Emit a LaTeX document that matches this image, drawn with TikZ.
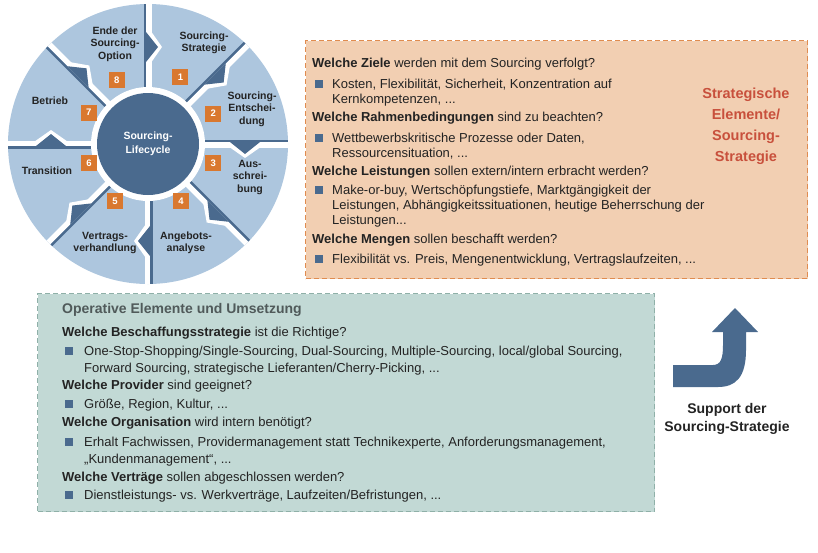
\documentclass[tikz,border=0pt]{standalone}
\usepackage{fontspec}
\setmainfont{Liberation Sans}
\begin{document}
\definecolor{lb}{RGB}{173,198,222}
\definecolor{db}{RGB}{74,106,142}
\definecolor{org}{RGB}{217,120,47}
\definecolor{obox}{RGB}{242,207,178}
\definecolor{oedge}{RGB}{224,140,80}
\definecolor{gbox}{RGB}{194,217,213}
\definecolor{gedge}{RGB}{143,176,168}
\definecolor{redt}{RGB}{200,80,60}
\definecolor{txt}{RGB}{35,35,35}
\begin{tikzpicture}[x=1pt,y=-1pt,
  num/.style={fill=org,text=white,font=\bfseries\fontsize{9.5}{10}\selectfont,minimum size=16pt,inner sep=0pt},
  seg/.style={font=\bfseries\fontsize{10.5}{12.5}\selectfont,text=txt,align=center,inner sep=0pt},
  q/.style={anchor=base west,inner sep=0pt,font=\fontsize{13}{15}\selectfont,text=txt},
  bl/.style={anchor=north west,inner sep=0pt,font=\fontsize{13}{15}\selectfont,text=txt,align=left},
  gl/.style={bl,font=\fontsize{13}{17}\selectfont},
  bx/.style={fill=db,minimum size=8pt,inner sep=0pt}]
\useasboundingbox (0,0) rectangle (818,552);
% boxes
\node[draw=oedge,fill=obox,dash pattern=on 5pt off 3pt,line width=1pt,minimum width=502pt,minimum height=238pt,anchor=north west] (ob) at (305,40) {};
\node[draw=gedge,fill=gbox,dash pattern=on 5pt off 3pt,line width=1pt,minimum width=617pt,minimum height=218pt,anchor=north west] (gb) at (37,293) {};
% circle
\begin{scope}[shift={(148,144)},yscale=-1]
 \fill[lb] (0,0) circle (140);
 \begin{scope}
  \clip (0,0) circle (140);
  \foreach \a in {90,45,0,-45,-90,-135,180,135}{
   \begin{scope}[rotate=\a]
    \fill[white] (55,-3.5) rectangle (145,2);
    \fill[db] (55,2) rectangle (145,4.5);
    \fill[white] (77,0) -- (117,0) -- (97,-14) -- cycle;
    \fill[db] (82,2) -- (112,2) -- (97,-10) -- cycle;
   \end{scope}}
 \end{scope}
 \fill[white] (0,0) circle (57);
 \node[circle,fill=db,minimum size=102pt,inner sep=0pt,text=white,font=\bfseries\fontsize{10.5}{14}\selectfont,align=center] (core) at (0,0) {Sourcing-\\Lifecycle};
 \node[num] (n1) at (64:74) {1};
 \node[num] (n2) at (25:72) {2};
 \node[num] (n3) at (-16:68) {3};
 \node[num] (n4) at (-60:66) {4};
 \node[num] (n5) at (-120:66) {5};
 \node[num] (n6) at (-162:62) {6};
 \node[num] (n7) at (152:67) {7};
 \node[num] (n8) at (116:71) {8};
\end{scope}
\node[seg] (s1) at (204,43) {Sourcing-\\Strategie};
\node[seg] (s2) at (252,109) {Sourcing-\\Entschei-\\dung};
\node[seg] (s3) at (250,177) {Aus-\\schrei-\\bung};
\node[seg] (s4) at (186,243) {Angebots-\\analyse};
\node[seg] (s5) at (105,243) {Vertrags-\\verhandlung};
\node[seg] (s6) at (47,171) {Transition};
\node[seg] (s7) at (50,101) {Betrieb};
\node[seg] (s8) at (115,44) {Ende der\\Sourcing-\\Option};
% orange text
\node[q] (o1) at (312,67) {\textbf{Welche Ziele} werden mit dem Sourcing verfolgt?};
\node[bx] at (319,84) {};
\node[bl] (o1b) at (332,79) {Kosten, Flexibilität, Sicherheit, Konzentration auf\\Kernkompetenzen, ...};
\node[q] (o2) at (312,121) {\textbf{Welche Rahmenbedingungen} sind zu beachten?};
\node[bx] at (319,138) {};
\node[bl] (o2b) at (332,133) {Wettbewerbskritische Prozesse oder Daten,\\Ressourcensituation, ...};
\node[q] (o3) at (312,175) {\textbf{Welche Leistungen} sollen extern/intern erbracht werden?};
\node[bx] at (319,190) {};
\node[bl] (o3b) at (332,185) {Make-or-buy, Wertschöpfungstiefe, Marktgängigkeit der\\Leistungen, Abhängigkeitssituationen, heutige Beherrschung der\\Leistungen...};
\node[q] (o4) at (312,243) {\textbf{Welche Mengen} sollen beschafft werden?};
\node[bx] at (319,259) {};
\node[bl] (o4b) at (332,254) {Flexibilität vs. Preis, Mengenentwicklung, Vertragslaufzeiten, ...};
\node[text=redt,font=\bfseries\fontsize{14.5}{21}\selectfont,align=center] (rt) at (746,126) {Strategische\\Elemente/\\Sourcing-\\Strategie};
% green text
\node[q,font=\bfseries\fontsize{14}{15}\selectfont,text={rgb,255:red,80;green,90;blue,90}] (gt) at (62,313) {Operative Elemente und Umsetzung};
\node[q] (g1) at (62,336) {\textbf{Welche Beschaffungsstrategie} ist die Richtige?};
\node[bx] at (69,351) {};
\node[gl] (g1b) at (84,346) {One-Stop-Shopping/Single-Sourcing, Dual-Sourcing, Multiple-Sourcing, local/global Sourcing,\\Forward Sourcing, strategische Lieferanten/Cherry-Picking, ...};
\node[q] (g2) at (62,389) {\textbf{Welche Provider} sind geeignet?};
\node[bx] at (69,404) {};
\node[gl] (g2b) at (84,399) {Größe, Region, Kultur, ...};
\node[q] (g3) at (62,426) {\textbf{Welche Organisation} wird intern benötigt?};
\node[bx] at (69,442) {};
\node[gl] (g3b) at (84,437) {Erhalt Fachwissen, Providermanagement statt Technikexperte, Anforderungsmanagement,\\„Kundenmanagement“, ...};
\node[q] (g4) at (62,481) {\textbf{Welche Verträge} sollen abgeschlossen werden?};
\node[bx] at (69,495) {};
\node[gl] (g4b) at (84,490) {Dienstleistungs- vs. Werkverträge, Laufzeiten/Befristungen, ...};
% arrow
\fill[db] (673,365) -- (713,365) .. controls (721,365) and (723,358) .. (723,345) -- (723,332) -- (712,332) -- (735,308) -- (758,332) -- (746,332) -- (746,350) .. controls (746,378) and (735,387) .. (718,387) -- (673,387) -- cycle;
\node[font=\bfseries\fontsize{14}{18}\selectfont,text=txt,align=center] (sup) at (727,419) {Support der\\Sourcing-Strategie};
\end{tikzpicture}
\end{document}
